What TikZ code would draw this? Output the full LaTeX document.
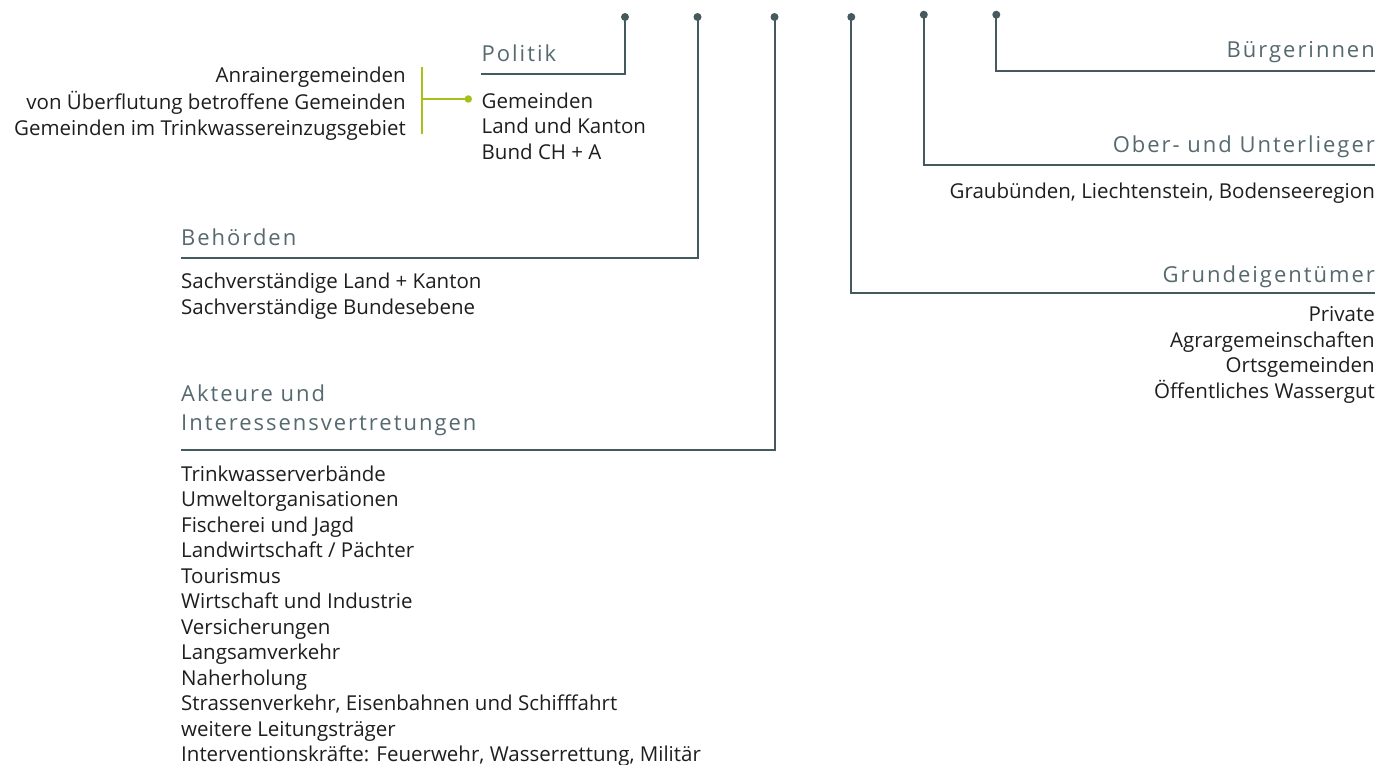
\documentclass[tikz,border=0pt]{standalone}
\usepackage{fontspec}
\setmainfont[Ligatures=NoCommon]{Open Sans}
\newfontfamily\headfont[LetterSpace=9,Ligatures=NoCommon]{Open Sans}
\definecolor{linec}{HTML}{46595E}
\definecolor{headc}{HTML}{55696E}
\definecolor{bodyc}{HTML}{1E1E1E}
\definecolor{greenc}{HTML}{A9C01A}
\tikzset{
  hd/.style={font=\headfont\fontsize{22}{29}\selectfont, text=headc, inner sep=0pt},
  bd/.style={font=\fontsize{20.5}{25.5}\selectfont, text=bodyc, inner sep=0pt},
  ln/.style={draw=linec, line width=2pt},
  gln/.style={draw=greenc, line width=2pt},
  dot/.style={circle, fill=linec, inner sep=0pt, minimum size=8pt},
  gdot/.style={circle, fill=greenc, inner sep=0pt, minimum size=7.5pt}
}
\begin{document}
\begin{tikzpicture}[x=1pt,y=-1pt]
\useasboundingbox (0,0) rectangle (1382,765);
% dots
\node[dot] (d1) at (625,17) {};
\node[dot] (d2) at (697.5,17) {};
\node[dot] (d3) at (774.5,17) {};
\node[dot] (d4) at (851.3,17) {};
\node[dot] (d5) at (923.8,14.7) {};
\node[dot] (d6) at (996.3,14.7) {};
% line ends
\coordinate (e1) at (481,74);
\coordinate (e2) at (181,258);
\coordinate (e3) at (181,450);
\coordinate (e4) at (1375,293.3);
\coordinate (e5) at (1375,165);
\coordinate (e6) at (1375,71.5);
\draw[ln] (d1.center) |- (e1);
\draw[ln] (d2.center) |- (e2);
\draw[ln] (d3.center) |- (e3);
\draw[ln] (d4.center) |- (e4);
\draw[ln] (d5.center) |- (e5);
\draw[ln] (d6.center) |- (e6);
% headings
\node[hd, anchor=base west] (hpol) at (481.5,62) {Politik};
\node[hd, anchor=base west] (hbeh) at (181,245) {Behörden};
\node[hd, anchor=north west, align=left] (hakt) at (181,381.4) {\strut Akteure und\\Interessensvertretungen};
\node[hd, anchor=base east] (hgru) at (1375,282.3) {Grundeigentümer};
\node[hd, anchor=base east] (hobe) at (1375,152.3) {Ober- und Unterlieger};
\node[hd, anchor=base east] (hbue) at (1375,57.7) {Bürgerinnen};
% body lists
\node[bd, anchor=north east, align=right] (lpol) at (406,64.5) {\strut Anrainergemeinden\\von Überflutung betroffene Gemeinden\\Gemeinden im Trinkwassereinzugsgebiet};
\node[bd, anchor=north west, align=left] (bpol) at (481.5,90.2) {\strut Gemeinden\\Land und Kanton\\Bund CH + A};
\node[bd, anchor=north west, align=left] (bbeh) at (181,270.5) {\strut Sachverständige Land + Kanton\\Sachverständige Bundesebene};
\node[bd, anchor=north west, align=left] (bakt) at (181,463.2) {\strut Trinkwasserverbände\\Umweltorganisationen\\Fischerei und Jagd\\Landwirtschaft / Pächter\\Tourismus\\Wirtschaft und Industrie\\Versicherungen\\Langsamverkehr\\Naherholung\\Strassenverkehr, Eisenbahnen und Schifffahrt\\weitere Leitungsträger\\Interventionskräfte: Feuerwehr, Wasserrettung, Militär};
\node[bd, anchor=north east, align=right] (bgru) at (1375,303.9) {\strut Private\\Agrargemeinschaften\\Ortsgemeinden\\Öffentliches Wassergut};
\node[bd, anchor=base east] (bobe) at (1375,198.3) {Graubünden, Liechtenstein, Bodenseeregion};
% green bracket
\coordinate (g1) at (422.3,66.7);
\coordinate (g2) at (422.3,134);
\coordinate (g3) at (422.3,99);
\node[gdot] (gd) at (468.3,99) {};
\draw[gln] (g1) -- (g2);
\draw[gln] (g3) -- (gd.center);
\end{tikzpicture}
\end{document}
